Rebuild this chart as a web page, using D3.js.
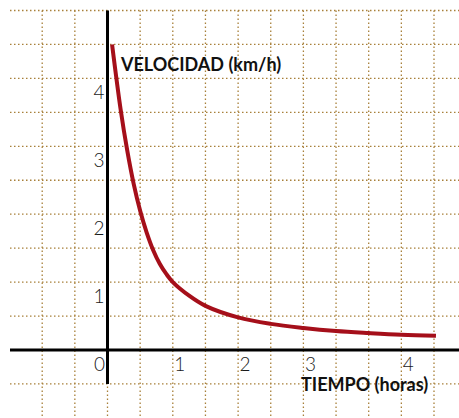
<!DOCTYPE html>
<html>
<head>
<meta charset="utf-8">
<script src="https://cdn.jsdelivr.net/npm/d3@7"></script>
<style>
  body { margin: 0; background: #fff; }
  svg { display: block; }
  .tick-label { font-family: 'Lato', sans-serif; font-weight: 300; font-size: 19px; fill: #1a1a1a; }
  .axis-title { font-family: 'Lato', sans-serif; font-weight: 700; font-size: 18px; fill: #111; }
</style>
</head>
<body>
<div id="chart"></div>
<script>
'use strict';

// time (hours) and speed (km/h)
const timeValues = [0.07, 0.2, 0.3, 0.4, 0.5, 0.6, 0.7, 0.8, 0.9, 1.0, 1.25, 1.5, 2.0, 2.5, 3.0, 3.5, 4.0, 4.5, 5.03];
const speedValues = [4.5, 3.55, 2.95, 2.45, 2.05, 1.73, 1.47, 1.27, 1.12, 1.0, 0.8, 0.65, 0.48, 0.385, 0.325, 0.28, 0.25, 0.225, 0.21];

// tick labels and where they sit on the axis (the "4" is printed one half step late)
const xTickLabels = ['0', '1', '2', '3', '4'];
const xTickAt = [0, 1, 2, 3, 4.5];
const yTickLabels = ['1', '2', '3', '4'];
const yTickAt = [1, 2, 3, 4];

const width = 459;
const height = 418;

let x = d3.scaleLinear().domain([0, 5]).range([107.5, 434]);
let y = d3.scaleLinear().domain([0, 5]).range([350, 10.5]);

let svg = d3.select('#chart')
    .append('svg')
    .attr('width', width)
    .attr('height', height);

// dotted grid, every half unit
let gridColor = '#a8803a';
let vLines = d3.range(-1, 5.01, 0.5);
let hLines = d3.range(-0.5, 5.01, 0.5);

svg.append('g')
    .selectAll('line')
    .data(vLines)
    .join('line')
    .attr('x1', d => x(d))
    .attr('x2', d => x(d))
    .attr('y1', y(5))
    .attr('y2', height)
    .attr('stroke', gridColor)
    .attr('stroke-width', 1.3)
    .attr('stroke-dasharray', '1.5,2.5');

svg.append('g')
    .selectAll('line')
    .data(hLines)
    .join('line')
    .attr('x1', 10)
    .attr('x2', width)
    .attr('y1', d => y(d))
    .attr('y2', d => y(d))
    .attr('stroke', gridColor)
    .attr('stroke-width', 1.3)
    .attr('stroke-dasharray', '1.5,2.5');

// axes
svg.append('line')
    .attr('x1', 10)
    .attr('x2', width)
    .attr('y1', y(0))
    .attr('y2', y(0))
    .attr('stroke', '#000')
    .attr('stroke-width', 3);

svg.append('line')
    .attr('x1', x(0))
    .attr('x2', x(0))
    .attr('y1', y(5))
    .attr('y2', y(-0.5))
    .attr('stroke', '#000')
    .attr('stroke-width', 3);

// tick labels
svg.append('g')
    .selectAll('text')
    .data(xTickLabels)
    .join('text')
    .attr('class', 'tick-label')
    .attr('x', (d, i) => i === 0 ? x(xTickAt[i]) - 8 : x(xTickAt[i]) + 7)
    .attr('y', y(0) + 21)
    .attr('text-anchor', 'middle')
    .text(d => d);

svg.append('g')
    .selectAll('text')
    .data(yTickLabels)
    .join('text')
    .attr('class', 'tick-label')
    .attr('x', x(0) - 3)
    .attr('y', (d, i) => y(yTickAt[i]) + 21)
    .attr('text-anchor', 'end')
    .text(d => d);

// curve
let line = d3.line()
    .x(d => x(d[0]))
    .y(d => y(d[1]))
    .curve(d3.curveCatmullRom.alpha(0.5));

svg.append('path')
    .datum(d3.zip(timeValues, speedValues))
    .attr('d', line)
    .attr('fill', 'none')
    .attr('stroke', '#a50f1a')
    .attr('stroke-width', 4);

// axis titles
svg.append('text')
    .attr('class', 'axis-title')
    .attr('x', 121)
    .attr('y', 71)
    .text('VELOCIDAD (km/h)');

svg.append('text')
    .attr('class', 'axis-title')
    .attr('x', 301)
    .attr('y', 391)
    .text('TIEMPO (horas)');
</script>
</body>
</html>
